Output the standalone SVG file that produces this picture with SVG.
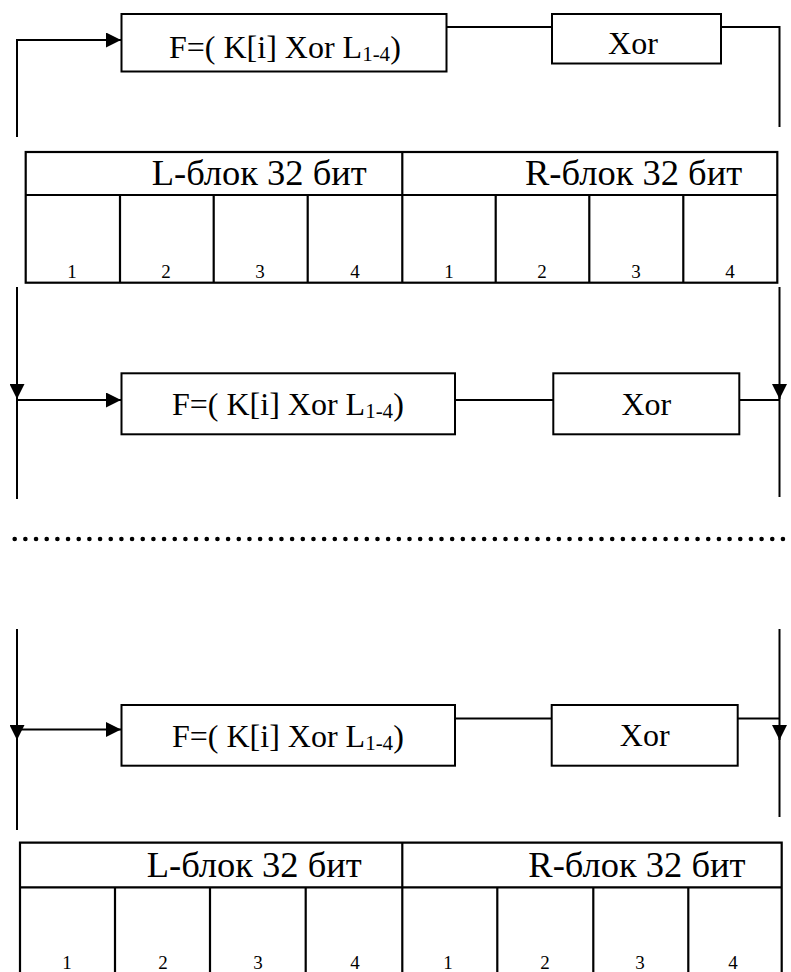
<svg xmlns="http://www.w3.org/2000/svg" width="791" height="972" viewBox="0 0 791 972">
  <style>
    .box { fill: #fff; stroke: #000; stroke-width: 2; }
    .wire { fill: none; stroke: #000; stroke-width: 2; }
    .grid { fill: none; stroke: #000; stroke-width: 2.2; }
    text { font-family: 'Liberation Serif', 'DejaVu Serif', serif; fill: #000; }
    .fn { font-size: 32px; }
    .sub { font-size: 21px; }
    .hdr { font-size: 36.5px; }
    .num { font-size: 19px; text-anchor: middle; }
    .mid { text-anchor: middle; }
    .dots { fill: none; stroke: #000; stroke-width: 4.6; stroke-linecap: round; stroke-dasharray: 0 10.67; }
  </style>
  <defs>
    <marker id="arrow" viewBox="0 0 10 10" refX="10" refY="5" markerWidth="15" markerHeight="15" markerUnits="userSpaceOnUse" orient="auto">
      <path d="M0,0 L10,5 L0,10 Z" fill="#000"/>
    </marker>
  </defs>
  <rect width="791" height="972" fill="#fff"/>

  <!-- connectors -->
  <g id="connectors">
    <!-- round 1 -->
    <path class="wire" d="M17,137 V40 H121" marker-end="url(#arrow)"/>
    <path class="wire" d="M447,27 H552"/>
    <path class="wire" d="M721,27 H779.5 V127"/>
    <!-- round 2 -->
    <path class="wire" d="M17,287 V499"/>
    <path class="wire" d="M17,385 V399" marker-end="url(#arrow)"/>
    <path class="wire" d="M17,400 H121" marker-end="url(#arrow)"/>
    <path class="wire" d="M455,400 H553"/>
    <path class="wire" d="M739,400 H779.5"/>
    <path class="wire" d="M779.5,287 V497"/>
    <path class="wire" d="M779.5,385 V399" marker-end="url(#arrow)"/>
    <!-- separator -->
    <path class="dots" d="M14.7,539 H791"/>
    <!-- round n -->
    <path class="wire" d="M17,629 V830"/>
    <path class="wire" d="M17,726 V740" marker-end="url(#arrow)"/>
    <path class="wire" d="M17,729.5 H121" marker-end="url(#arrow)"/>
    <path class="wire" d="M455,718.5 H552"/>
    <path class="wire" d="M738,718.5 H779.5"/>
    <path class="wire" d="M779.5,629 V817"/>
    <path class="wire" d="M779.5,726 V740" marker-end="url(#arrow)"/>
  </g>

  <!-- round 1 nodes -->
  <g id="f1">
    <rect class="box" x="121.5" y="14" width="325" height="57.5"/>
    <text class="fn" x="169" y="58">F=( K[i] Xor L<tspan class="sub" dy="3">1-4</tspan><tspan dy="-3">)</tspan></text>
  </g>
  <g id="xor1">
    <rect class="box" x="552" y="14" width="169" height="49.5"/>
    <text class="fn mid" x="633" y="53.5">Xor</text>
  </g>

  <!-- block table (top) -->
  <g id="table1">
    <rect class="grid" x="25.7" y="152" width="751.6" height="130.7"/>
    <path class="grid" d="M25.7,195 H777.3 M402.3,152 V282.7 M120,195 V282.7 M213.7,195 V282.7 M307.7,195 V282.7 M495.7,195 V282.7 M589.3,195 V282.7 M683.3,195 V282.7"/>
    <text class="hdr" x="151.7" y="185">L-блок 32 бит</text>
    <text class="hdr" x="525" y="185">R-блок 32 бит</text>
    <text class="num" x="72" y="278">1</text>
    <text class="num" x="166" y="278">2</text>
    <text class="num" x="260" y="278">3</text>
    <text class="num" x="355" y="278">4</text>
    <text class="num" x="449" y="278">1</text>
    <text class="num" x="542" y="278">2</text>
    <text class="num" x="636" y="278">3</text>
    <text class="num" x="730" y="278">4</text>
  </g>

  <!-- round 2 nodes -->
  <g id="f2">
    <rect class="box" x="121.5" y="373.3" width="333.5" height="61"/>
    <text class="fn" x="172" y="415">F=( K[i] Xor L<tspan class="sub" dy="3">1-4</tspan><tspan dy="-3">)</tspan></text>
  </g>
  <g id="xor2">
    <rect class="box" x="553.3" y="373.3" width="186" height="61"/>
    <text class="fn mid" x="646.3" y="415">Xor</text>
  </g>

  <!-- round n nodes -->
  <g id="f3">
    <rect class="box" x="121.5" y="705" width="333.5" height="60.7"/>
    <text class="fn" x="172" y="746.5">F=( K[i] Xor L<tspan class="sub" dy="3">1-4</tspan><tspan dy="-3">)</tspan></text>
  </g>
  <g id="xor3">
    <rect class="box" x="551.7" y="705" width="186" height="60.7"/>
    <text class="fn mid" x="644.7" y="746">Xor</text>
  </g>

  <!-- block table (bottom) -->
  <g id="table2">
    <path class="grid" d="M20,980 V842.7 H781.7 V980 M20,887.3 H781.7 M402.3,842.7 V980 M115,887.3 V980 M210,887.3 V980 M305.7,887.3 V980 M497.3,887.3 V980 M593.3,887.3 V980 M688.3,887.3 V980"/>
    <text class="hdr" x="146.7" y="876.7">L-блок 32 бит</text>
    <text class="hdr" x="528.3" y="876.7">R-блок 32 бит</text>
    <text class="num" x="67" y="969">1</text>
    <text class="num" x="163" y="969">2</text>
    <text class="num" x="258" y="969">3</text>
    <text class="num" x="355" y="969">4</text>
    <text class="num" x="448" y="969">1</text>
    <text class="num" x="545" y="969">2</text>
    <text class="num" x="640" y="969">3</text>
    <text class="num" x="733" y="969">4</text>
  </g>
</svg>
